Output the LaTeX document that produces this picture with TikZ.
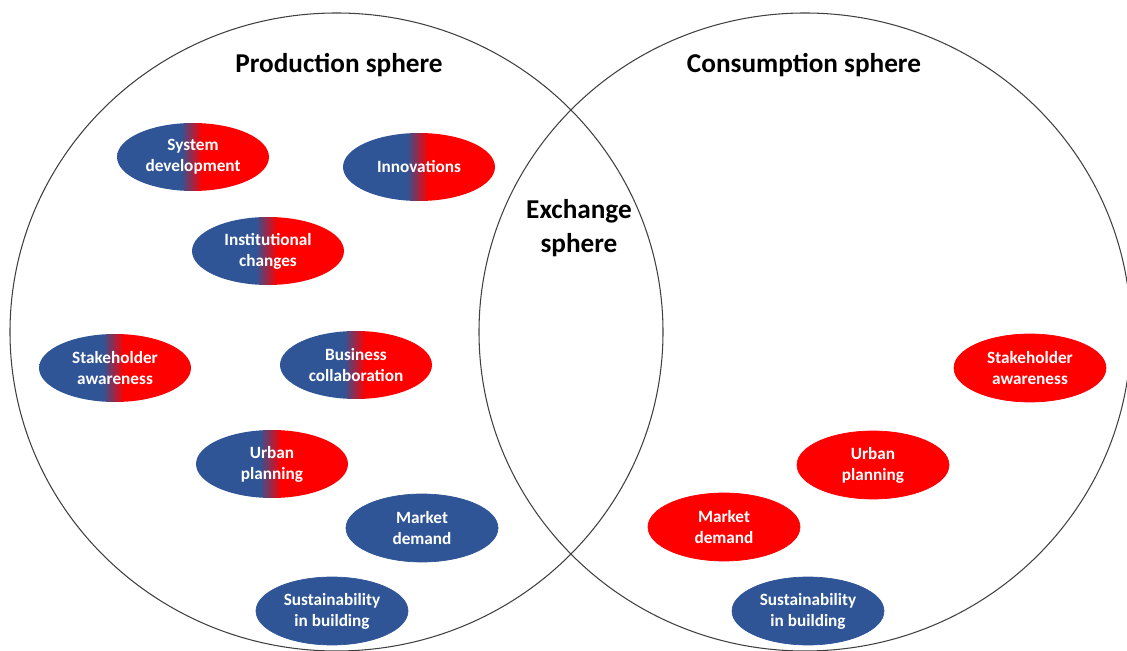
\documentclass[tikz,border=0pt]{standalone}
\usepackage{fontspec}
\setmainfont{Carlito}
\usetikzlibrary{shapes.geometric}
\definecolor{prodblue}{RGB}{47,85,151}
\definecolor{consred}{RGB}{255,0,0}
\pgfdeclarehorizontalshading{bluered}{100bp}{color(0bp)=(prodblue); color(46bp)=(prodblue); color(53bp)=(consred); color(100bp)=(consred)}
\tikzset{
	sphere/.style={draw=black!75, line width=0.6pt},
	spheretitle/.style={font=\fontsize{15.5}{19.3}\selectfont\bfseries, align=center},
	factor/.style={ellipse, minimum width=3.04cm, minimum height=1.36cm, inner sep=0pt, align=center, text=white, font=\fontsize{9.8}{12}\selectfont\bfseries},
	mixed/.style={factor, shading=bluered},
	prod/.style={factor, fill=prodblue, draw=prodblue},
	cons/.style={factor, fill=consred, draw=consred},
}

\begin{document}
\begin{tikzpicture}[x=0.02cm, y=-0.02cm]
		%%%%% START %%%%%
		
		\useasboundingbox (0, 0) rectangle (1127, 651);
		\clip (0, 0) rectangle (1127, 651);
		
		\draw[sphere] (336.5, 332) ellipse [x radius=326.5, y radius=319];
		\draw[sphere] (805, 332) ellipse [x radius=326, y radius=319];
		
		\node[spheretitle] (prodtitle) at (339, 65) {Production sphere};
		\node[spheretitle] (constitle) at (804, 65) {Consumption sphere};
		\node[spheretitle] (exchtitle) at (579, 228) {Exchange\\sphere};
		
		\node[mixed] (sysdev) at (193, 157) {System\\development};
		\node[mixed] (innov) at (419, 167) {Innovations};
		\node[mixed] (instit) at (268, 251) {Institutional\\changes};
		\node[mixed] (stakeprod) at (115, 368) {Stakeholder\\awareness};
		\node[mixed] (busin) at (356, 365) {Business\\collaboration};
		\node[mixed] (urbanprod) at (272, 464) {Urban\\planning};
		\node[prod] (marketprod) at (422, 528) {Market\\demand};
		\node[prod] (sustprod) at (332, 611) {Sustainability\\in building};
		
		\node[cons] (stakecons) at (1030, 368) {Stakeholder\\awareness};
		\node[cons] (urbancons) at (873, 465) {Urban\\planning};
		\node[cons] (marketcons) at (724, 527) {Market\\demand};
		\node[prod] (sustcons) at (808, 611) {Sustainability\\in building};
		
		%%%%% END %%%%%
\end{tikzpicture}
\end{document}
